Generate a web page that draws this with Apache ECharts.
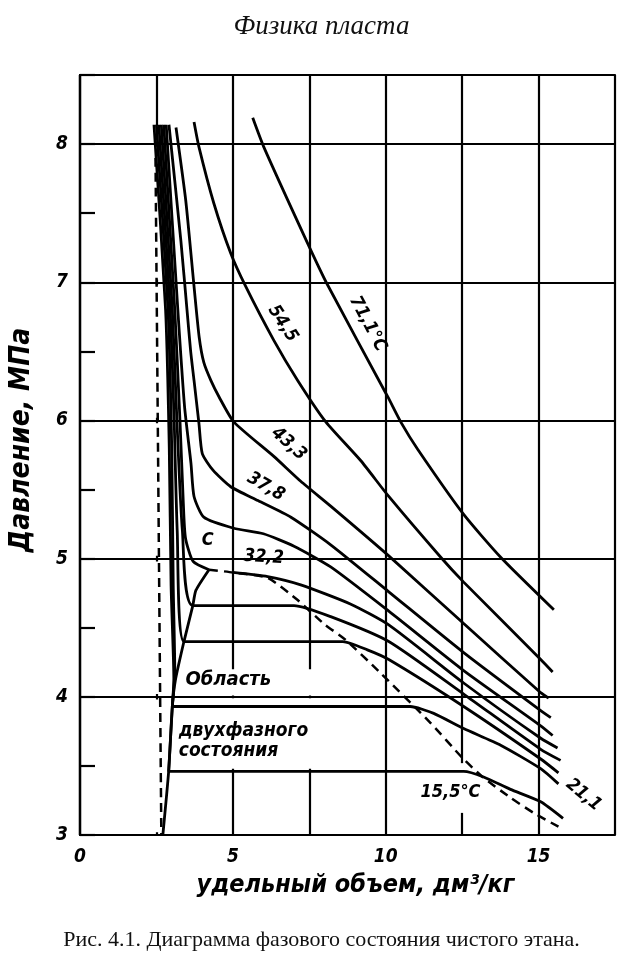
<!DOCTYPE html>
<html>
<head>
<meta charset="utf-8">
<title>Диаграмма фазового состояния чистого этана</title>
<script src="https://cdn.jsdelivr.net/npm/echarts/dist/echarts.min.js"></script>
<style>
html, body { margin: 0; padding: 0; background: #fff; }
#chart { width: 643px; height: 959px; }
</style>
</head>
<body>
<div id="chart"></div>
<script>
// удельный объем (дм3/кг) -> давление (МПа)
var xLabels = [0, 5, 10, 15]
var yLabels = [3, 4, 5, 6, 7, 8]

var iso711 = [[5.65, 8.19], [6.01, 7.98], [7.45, 7.28], [8.10, 6.98], [10.07, 6.17], [10.49, 5.99],
  [11.05, 5.79], [12.55, 5.32], [13.76, 5.01], [15.5, 4.63]]
var iso545 = [[3.73, 8.16], [3.89, 7.98], [4.38, 7.57], [4.93, 7.21], [5.42, 6.97], [6.34, 6.58],
  [7.12, 6.29], [8.04, 5.99], [9.18, 5.71], [10.1, 5.45], [11.8, 5.01], [12.55, 4.83], [15.07, 4.27], [15.46, 4.18]]
var iso433 = [[3.14, 8.12], [3.46, 7.59], [3.73, 6.97], [3.9, 6.6], [4.05, 6.42], [4.28, 6.29], [4.55, 6.17],
  [5.03, 5.99], [6.34, 5.74], [7.22, 5.56], [8.2, 5.38], [10.1, 5.02], [12.55, 4.53], [15.07, 4.03], [15.33, 3.99]]
var iso378 = [[2.91, 8.14], [3.3, 7.3], [3.5, 6.8], [3.62, 6.5], [3.73, 6.29], [3.89, 5.98], [4.0, 5.76],
  [4.35, 5.64], [4.93, 5.52], [5.82, 5.42], [6.9, 5.30], [8.2, 5.10], [10.1, 4.76], [12.55, 4.32], [15.07, 3.90], [15.4, 3.85]]
// unlabelled isotherm between 32,2 and 37,8
var isoMid = [[2.82, 8.14], [3.2, 6.8], [3.42, 6.1], [3.63, 5.69], [3.73, 5.45], [4.05, 5.30], [5.03, 5.22],
  [6.0, 5.18], [7.0, 5.09], [8.2, 4.94], [10.1, 4.62], [12.55, 4.19], [15.07, 3.79], [15.46, 3.72]]
var iso322liq = [[2.74, 8.14], [3.1, 6.8], [3.27, 6.0], [3.38, 5.4], [3.45, 5.15], [3.7, 4.98], [4.22, 4.92]]
var iso322gas = [[5.0, 4.90], [6.14, 4.87], [7.22, 4.81], [8.86, 4.67], [10.1, 4.52], [12.55, 4.10], [15.07, 3.70], [15.62, 3.63]]
// two unlabelled isotherms with plateaus at 4,66 and 4,40 MPa
var isoP466 = [[2.66, 8.14], [3.02, 6.8], [3.17, 6.0], [3.35, 5.2], [3.69, 4.66], [7.0, 4.66], [8.2, 4.58],
  [10.1, 4.40], [12.55, 4.02], [15.07, 3.62], [15.72, 3.54]]
var isoP440 = [[2.58, 8.14], [2.95, 6.8], [3.08, 6.0], [3.18, 5.2], [3.40, 4.40], [8.6, 4.40], [9.4, 4.34],
  [10.1, 4.27], [12.55, 3.93], [15.07, 3.55], [15.65, 3.45]]
var iso211 = [[2.5, 8.14], [2.88, 6.8], [3.0, 5.8], [3.05, 4.8], [3.1, 4.2], [3.02, 3.93], [10.8, 3.93],
  [11.57, 3.88], [12.55, 3.77], [13.76, 3.65], [15.07, 3.48], [15.65, 3.37]]
var iso155 = [[2.42, 8.14], [2.8, 6.8], [2.92, 5.8], [2.98, 4.8], [3.07, 4.12], [3.02, 3.93], [2.90, 3.46],
  [12.55, 3.46], [13.2, 3.42], [14.08, 3.33], [15.07, 3.24], [15.8, 3.12]]
// saturation curves
var bubbleLine = [[4.22, 4.92], [3.79, 4.77], [3.69, 4.66], [3.40, 4.40], [3.12, 4.12], [3.02, 3.93], [2.90, 3.46], [2.71, 3.0]]
var dewLine = [[4.22, 4.92], [5.0, 4.90], [6.14, 4.86], [7.12, 4.70], [7.97, 4.53], [8.7, 4.41], [9.84, 4.17],
  [11.47, 3.81], [12.5, 3.56], [13.17, 3.42], [14.08, 3.27], [14.84, 3.16], [15.65, 3.06]]
var liquidLimit = [[2.47, 7.9], [2.66, 3.0]]

var hand = "'DejaVu Sans Condensed', 'DejaVu Sans', sans-serif"
var serif = "'Liberation Serif', 'DejaVu Serif', serif"

var chart = echarts.init(document.getElementById('chart'))

function solid(data) {
  return {
    type: 'line',
    data: data,
    symbol: 'none',
    smooth: 0.2,
    silent: true,
    lineStyle: { color: '#000', width: 2.8 }
  }
}

function dashed(data) {
  var s = solid(data)
  s.lineStyle = { color: '#000', width: 2.5, type: [9, 6] }
  return s
}

// white patches where the scan has gaps in the grid (text box, 15,5 label, liquid edge)
var gaps = [
  [{ xAxis: 4.6, yAxis: 3.48 }, { xAxis: 7.9, yAxis: 3.99 }],
  [{ xAxis: 4.6, yAxis: 4.01 }, { xAxis: 7.9, yAxis: 4.2 }],
  [{ xAxis: 12.3, yAxis: 3.16 }, { xAxis: 12.8, yAxis: 3.52 }]
]
for (var p = 3; p < 8; p++) {
  gaps.push([{ xAxis: 2.4, yAxis: p + 0.02 }, { xAxis: 2.6, yAxis: p + 0.98 }])
}
gaps.push([{ xAxis: 2.4, yAxis: 8.02 }, { xAxis: 2.6, yAxis: 8.13 }])

var s155 = solid(iso155)
s155.markArea = {
  silent: true,
  itemStyle: { color: '#fff', opacity: 1, borderWidth: 0 },
  label: { show: false },
  data: gaps
}

var series = [
  solid(iso711), solid(iso545), solid(iso433), solid(iso378), solid(isoMid),
  solid(iso322liq), solid(iso322gas), solid(isoP466), solid(isoP440), solid(iso211), s155,
  solid(bubbleLine), dashed(dewLine), dashed(liquidLimit)
]

chart.setOption({
  animation: false,
  backgroundColor: '#fff',
  title: [{
    text: 'Физика пласта',
    left: 'center',
    top: 8,
    textStyle: { fontFamily: serif, fontStyle: 'italic', fontWeight: 'normal', fontSize: 27, color: '#111' }
  }, {
    text: 'Рис. 4.1. Диаграмма фазового состояния чистого этана.',
    left: 'center',
    top: 924,
    textStyle: { fontFamily: serif, fontWeight: 'normal', fontSize: 22, color: '#111' }
  }],
  grid: { left: 79, right: 28, top: 75, bottom: 124 },
  xAxis: [{
    type: 'value',
    min: 0,
    max: 17.5,
    interval: 2.5,
    name: 'удельный объем, дм³/кг',
    nameLocation: 'middle',
    nameGap: 38,
    nameTextStyle: { fontFamily: hand, fontStyle: 'italic', fontWeight: 'bold', fontSize: 25, color: '#000', padding: [0, 0, 0, 16] },
    axisLine: { lineStyle: { color: '#000', width: 2.2 } },
    axisTick: { show: false },
    splitLine: { lineStyle: { color: '#000', width: 2.2 } },
    axisLabel: {
      margin: 13,
      color: '#000',
      fontFamily: hand,
      fontStyle: 'italic',
      fontWeight: 'bold',
      fontSize: 19,
      formatter: function (v) { return xLabels.indexOf(v) >= 0 ? String(v) : '' }
    }
  }, {
    type: 'value',
    position: 'top',
    min: 0,
    max: 17.5,
    axisLine: { lineStyle: { color: '#000', width: 2.2 } },
    axisTick: { show: false },
    axisLabel: { show: false },
    splitLine: { show: false }
  }],
  yAxis: [{
    type: 'value',
    min: 3,
    max: 8.5,
    interval: 1,
    name: 'Давление, МПа',
    nameLocation: 'middle',
    nameGap: 44,
    nameTextStyle: { fontFamily: hand, fontStyle: 'italic', fontWeight: 'bold', fontSize: 28, color: '#000', padding: [0, 0, 0, 30] },
    axisLine: { show: true, lineStyle: { color: '#000', width: 2.2 } },
    axisTick: { show: false },
    splitLine: { lineStyle: { color: '#000', width: 2.2 } },
    axisLabel: {
      margin: 12,
      color: '#000',
      fontFamily: hand,
      fontStyle: 'italic',
      fontWeight: 'bold',
      fontSize: 19,
      showMaxLabel: false,
      formatter: function (v) { return yLabels.indexOf(v) >= 0 ? String(v) : '' }
    }
  }, {
    type: 'value',
    position: 'left',
    min: 3,
    max: 8.5,
    interval: 0.5,
    axisLine: { show: true, lineStyle: { color: '#000', width: 2.2 } },
    axisTick: { inside: true, length: 15, lineStyle: { color: '#000', width: 2.2 } },
    axisLabel: { show: false },
    splitLine: { show: false }
  }],
  series: series
})

// curve labels, placed in data coordinates, rotation in degrees (down-right is negative)
var notes = [
  { text: '71,1°C', at: [9.41, 6.70], rot: -62, size: 18 },
  { text: '54,5', at: [6.63, 6.70], rot: -57, size: 18 },
  { text: '43,3', at: [6.83, 5.83], rot: -42, size: 18 },
  { text: '37,8', at: [6.08, 5.52], rot: -30, size: 18 },
  { text: '32,2', at: [6.01, 5.01], rot: -3, size: 18 },
  { text: 'С', at: [4.18, 5.13], rot: 0, size: 18 },
  { text: '15,5°С', at: [12.12, 3.31], rot: 0, size: 18 },
  { text: '21,1', at: [16.47, 3.29], rot: -40, size: 18 },
  { text: 'Область', at: [3.45, 4.12], rot: 0, size: 20, left: true },
  { text: 'двухфазного', at: [3.23, 3.75], rot: 0, size: 19, left: true },
  { text: 'состояния', at: [3.23, 3.61], rot: 0, size: 19, left: true }
]

chart.setOption({
  graphic: notes.map(function (n) {
    var px = chart.convertToPixel({ xAxisIndex: 0, yAxisIndex: 0 }, n.at)
    var align = n.left ? 'left' : 'center'
    return {
      type: 'text',
      x: px[0],
      y: px[1],
      rotation: n.rot * Math.PI / 180,
      silent: true,
      z: 10,
      style: {
        text: n.text,
        fill: '#000',
        fontFamily: hand,
        fontStyle: 'italic',
        fontWeight: 'bold',
        fontSize: n.size,
        align: align,
        textAlign: align,
        verticalAlign: 'middle',
        textVerticalAlign: 'middle'
      }
    }
  })
})
</script>
</body>
</html>
